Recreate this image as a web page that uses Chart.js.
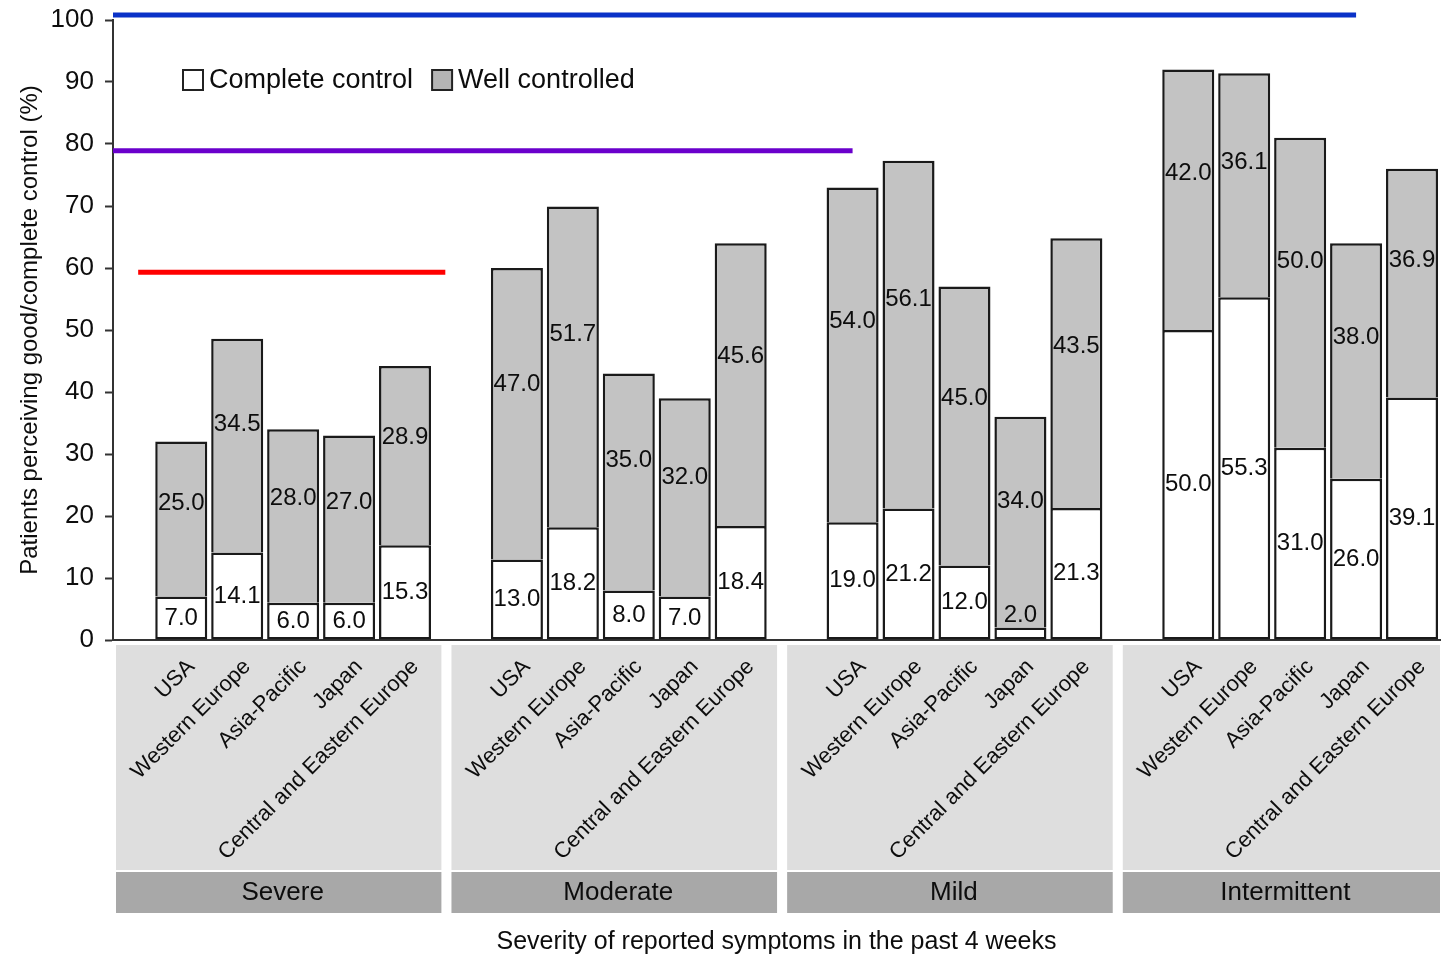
<!DOCTYPE html>
<html>
<head>
<meta charset="utf-8">
<title>Perceived asthma control by severity and region</title>
<script src="https://cdn.jsdelivr.net/npm/chart.js@4.4.1/dist/chart.umd.min.js"></script>
<style>
  html, body { margin: 0; padding: 0; background: #fff; }
  #wrap { width: 1443px; height: 957px; position: relative; }
</style>
</head>
<body>
<div id="wrap"><canvas id="barChart"></canvas></div>
<script>
// data
const severities = ['Severe', 'Moderate', 'Mild', 'Intermittent'];
const regions = ['USA', 'Western Europe', 'Asia-Pacific', 'Japan', 'Central and Eastern Europe'];
const completeControl = [
  7.0, 14.1, 6.0, 6.0, 15.3,
  13.0, 18.2, 8.0, 7.0, 18.4,
  19.0, 21.2, 12.0, 2.0, 21.3,
  50.0, 55.3, 31.0, 26.0, 39.1
];
const wellControlled = [
  25.0, 34.5, 28.0, 27.0, 28.9,
  47.0, 51.7, 35.0, 32.0, 45.6,
  54.0, 56.1, 45.0, 34.0, 43.5,
  42.0, 36.1, 50.0, 38.0, 36.9
];
const yTicks = [0, 10, 20, 30, 40, 50, 60, 70, 80, 90, 100];
const refLineValues = [100.8, 78.9, 59.3];

// layout: one empty slot between severity groups
const groupSize = regions.length + 1;
const slotOf = (g, r) => g * groupSize + r;
const xPositions = [];
const xLabelAt = {};
severities.forEach((s, g) => {
  regions.forEach((r, i) => {
    xPositions.push(slotOf(g, i));
    xLabelAt[slotOf(g, i)] = r;
  });
});

const refLineStyle = [
  { color: '#0a32c8', from: -1.22, to: 21.0 },
  { color: '#6a00cc', from: -1.22, to: 12.0 },
  { color: '#ff0000', from: -0.77, to: 4.72 }
];

const FONT = '"Liberation Sans", Arial, Helvetica, sans-serif';
const INK = '#0d0d0d';
Chart.defaults.font.family = FONT;
Chart.defaults.color = INK;

// grey panels under the region labels, with the severity band
const groupPanels = {
  id: 'groupPanels',
  beforeDraw(chart) {
    const { ctx, chartArea, scales: { x } } = chart;
    const b = chartArea.bottom;
    ctx.save();
    severities.forEach((name, g) => {
      const x1 = Math.max(x.getPixelForValue(slotOf(g, 0) - 1.17), chartArea.left + 3);
      const x2 = Math.min(x.getPixelForValue(slotOf(g, 0) + 4.65), chart.width - 3);
      ctx.fillStyle = '#dedede';
      ctx.fillRect(x1, b + 5, x2 - x1, 225);
      ctx.fillStyle = '#a8a8a8';
      ctx.fillRect(x1, b + 232, x2 - x1, 41);
      ctx.fillStyle = INK;
      ctx.font = '26px ' + FONT;
      ctx.textAlign = 'center';
      ctx.textBaseline = 'middle';
      ctx.fillText(name, (x1 + x2) / 2 + 4, b + 253);
    });
    ctx.restore();
  }
};

// value labels inside the bar segments
const segmentLabels = {
  id: 'segmentLabels',
  afterDatasetsDraw(chart) {
    const { ctx } = chart;
    ctx.save();
    ctx.font = '24px ' + FONT;
    ctx.fillStyle = INK;
    ctx.textAlign = 'center';
    ctx.textBaseline = 'middle';
    [0, 1].forEach(di => {
      const meta = chart.getDatasetMeta(di);
      const ds = chart.data.datasets[di];
      meta.data.forEach((bar, i) => {
        const { x, y, base } = bar.getProps(['x', 'y', 'base'], true);
        const h = base - y;
        let ty;
        if (di === 0) ty = h < 26 ? y - 12 : y + h / 2;
        else ty = y + h * 0.4;
        ctx.fillText(ds.data[i].y.toFixed(1), x, ty);
      });
    });
    ctx.restore();
  }
};

// legend inside the plot
const innerLegend = {
  id: 'innerLegend',
  afterDraw(chart) {
    const { ctx, chartArea } = chart;
    let x = chartArea.left + 70;
    const yc = chartArea.top + 60;
    ctx.save();
    ctx.font = '27px ' + FONT;
    ctx.textBaseline = 'middle';
    ctx.textAlign = 'left';
    [0, 1].forEach(di => {
      const ds = chart.data.datasets[di];
      ctx.fillStyle = di === 0 ? '#ffffff' : '#b4b4b4';
      ctx.fillRect(x, yc - 10, 20, 20);
      ctx.strokeStyle = '#222';
      ctx.lineWidth = 2;
      ctx.strokeRect(x, yc - 10, 20, 20);
      x += 26;
      ctx.fillStyle = INK;
      ctx.fillText(ds.label, x, yc + 1);
      x += ctx.measureText(ds.label).width + 19;
    });
    ctx.restore();
  }
};

const ctx = document.getElementById('barChart');

new Chart(ctx, {
  type: 'bar',
  data: {
    datasets: [
      {
        label: 'Complete control',
        data: xPositions.map((p, i) => ({ x: p, y: completeControl[i] })),
        backgroundColor: '#ffffff',
        borderColor: '#1a1a1a',
        borderWidth: 2.5,
        borderSkipped: false,
        barPercentage: 0.93,
        categoryPercentage: 1
      },
      {
        label: 'Well controlled',
        data: xPositions.map((p, i) => ({ x: p, y: wellControlled[i] })),
        backgroundColor: '#c3c3c3',
        borderColor: '#1a1a1a',
        borderWidth: 2.5,
        borderSkipped: 'bottom',
        barPercentage: 0.93,
        categoryPercentage: 1
      },
      ...refLineValues.map((v, k) => ({
        type: 'line',
        label: 'ref' + k,
        stack: 'ref' + k,
        data: [{ x: refLineStyle[k].from, y: v }, { x: refLineStyle[k].to, y: v }],
        borderColor: refLineStyle[k].color,
        borderWidth: 5,
        pointRadius: 0,
        clip: false,
        order: -1
      }))
    ]
  },
  options: {
    responsive: true,
    maintainAspectRatio: false,
    animation: false,
    layout: { padding: { top: 20, right: 3, left: 0, bottom: 0 } },
    scales: {
      x: {
        type: 'linear',
        stacked: true,
        offset: false,
        min: -1.22,
        max: 22.5,
        grid: { display: false, drawTicks: false },
        border: { display: true, color: '#333', width: 2 },
        afterBuildTicks(scale) {
          scale.ticks = xPositions.map(v => ({ value: v }));
        },
        afterFit(scale) {
          scale.height = 317;
          scale.paddingLeft = 0;
          scale.paddingRight = 0;
        },
        ticks: {
          autoSkip: false,
          minRotation: 45,
          maxRotation: 45,
          padding: 14,
          labelOffset: 10,
          font: { size: 22 },
          color: INK,
          callback: value => xLabelAt[value] || ''
        },
        title: {
          display: true,
          text: 'Severity of reported symptoms in the past 4 weeks',
          font: { size: 25 },
          color: INK,
          padding: { top: 4, bottom: 0 }
        }
      },
      y: {
        stacked: true,
        min: 0,
        max: 100,
        afterBuildTicks(scale) {
          scale.ticks = yTicks.map(v => ({ value: v }));
        },
        afterFit(scale) {
          scale.width = 113;
          scale.paddingTop = 0;
          scale.paddingBottom = 0;
        },
        grid: { drawOnChartArea: false, drawTicks: true, tickLength: 8, tickColor: '#333', tickWidth: 2 },
        border: { display: true, color: '#333', width: 2 },
        ticks: { padding: 11, font: { size: 26 }, color: INK },
        title: {
          display: true,
          text: 'Patients perceiving good/complete control (%)',
          font: { size: 24 },
          color: INK,
          padding: { top: 16, bottom: 0 }
        }
      }
    },
    plugins: {
      legend: { display: false },
      tooltip: { enabled: false }
    }
  },
  plugins: [groupPanels, segmentLabels, innerLegend]
});
</script>
</body>
</html>
